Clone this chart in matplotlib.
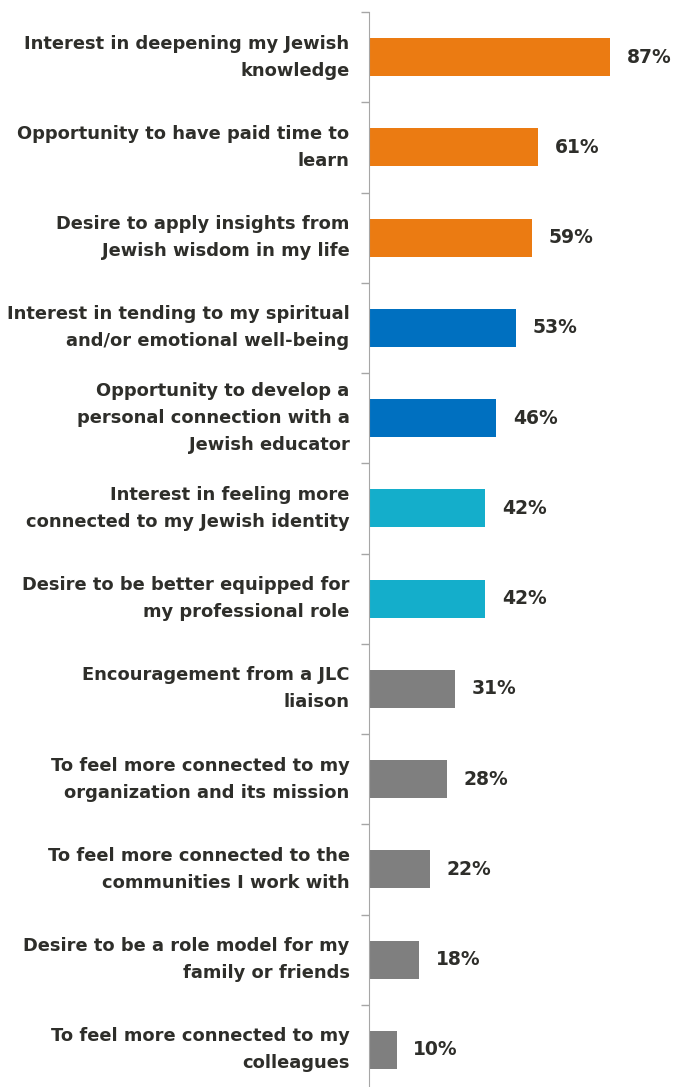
import matplotlib.pyplot as plt

labels = [
    "Interest in deepening my Jewish\nknowledge",
    "Opportunity to have paid time to\nlearn",
    "Desire to apply insights from\nJewish wisdom in my life",
    "Interest in tending to my spiritual\nand/or emotional well-being",
    "Opportunity to develop a\npersonal connection with a\nJewish educator",
    "Interest in feeling more\nconnected to my Jewish identity",
    "Desire to be better equipped for\nmy professional role",
    "Encouragement from a JLC\nliaison",
    "To feel more connected to my\norganization and its mission",
    "To feel more connected to the\ncommunities I work with",
    "Desire to be a role model for my\nfamily or friends",
    "To feel more connected to my\ncolleagues",
]
values = [87, 61, 59, 53, 46, 42, 42, 31, 28, 22, 18, 10]
groups = ["orange", "orange", "orange", "blue", "blue", "cyan", "cyan",
          "gray", "gray", "gray", "gray", "gray"]

palette = {"orange": "#EB7B12", "blue": "#0070C0", "cyan": "#14AECB", "gray": "#7F7F7F"}
text_color = "#2E2E2A"

plt.rcParams['font.family'] = ['DejaVu Sans']

fig = plt.figure(figsize=(6.74, 10.87), dpi=100)
W, H = 674, 1087
ax = fig.add_axes([369 / W, -8 / H, 277 / W, (1095 - 12) / H])

y = list(range(len(values)))
ax.barh(y, values, height=0.42, color=[palette[g] for g in groups])
ax.set_ylim(len(values) - 0.5, -0.5)
ax.set_xlim(0, 100)

for yi, v in zip(y, values):
    ax.text(v + 6, yi, f"{v}%", va="center", ha="left", fontsize=13.5,
            fontweight="bold", color=text_color)

for yi, lab in zip(y, labels):
    ax.text(-7, yi, lab, va="center", ha="right", fontsize=12.9,
            fontweight="bold", color=text_color, linespacing=1.65,
            transform=ax.transData, clip_on=False)

ax.set_xticks([])
ax.set_yticks([i - 0.5 for i in range(len(values) + 1)])
ax.set_yticklabels([])
ax.tick_params(axis="y", length=6, color="#A6A6A6", width=1)
for s in ["top", "right", "bottom"]:
    ax.spines[s].set_visible(False)
ax.spines["left"].set_color("#A6A6A6")

fig.savefig("out.png", dpi=100)
